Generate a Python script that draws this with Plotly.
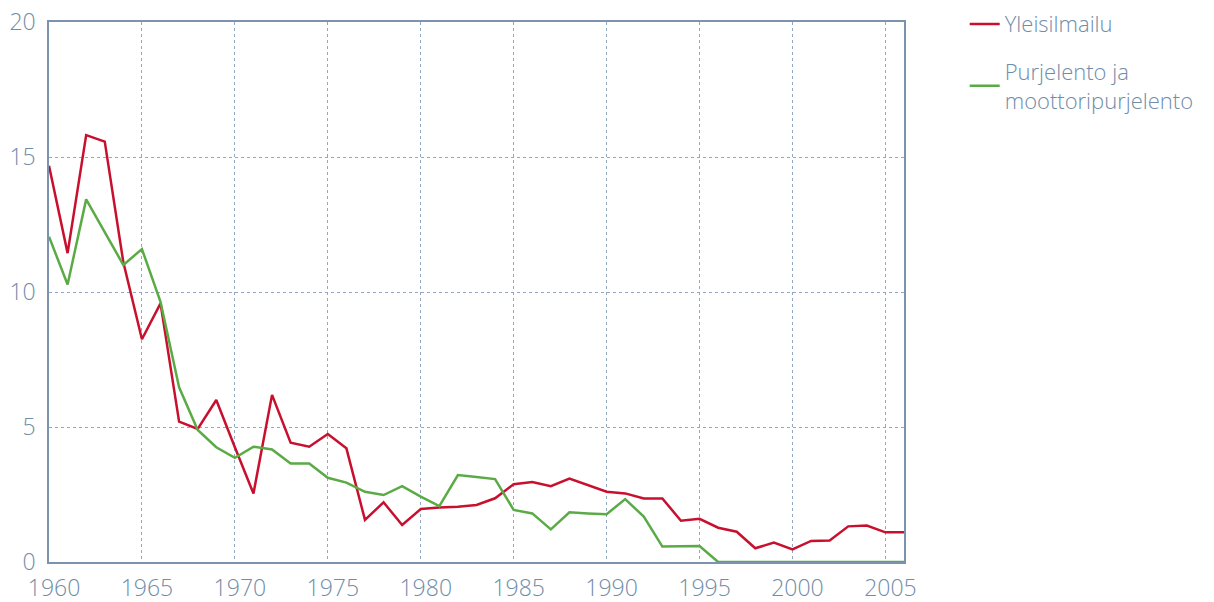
import plotly.graph_objects as go

years = list(range(1960, 2007))
yleisilmailu = [14.68, 11.44, 15.81, 15.57, 11.1, 8.25, 9.58, 5.2, 4.93, 6.0,
                4.25, 2.54, 6.19, 4.42, 4.27, 4.74, 4.21, 1.56, 2.21, 1.37,
                1.96, 2.02, 2.05, 2.11, 2.36, 2.88, 2.96, 2.81, 3.09, 2.84,
                2.60, 2.54, 2.35, 2.35, 1.53, 1.60, 1.27, 1.12, 0.51, 0.72,
                0.47, 0.78, 0.80, 1.32, 1.35, 1.10, 1.10]
purjelento = [12.05, 10.28, 13.43, 12.2, 11.0, 11.59, 9.64, 6.47, 4.89, 4.25,
              3.86, 4.27, 4.17, 3.65, 3.65, 3.12, 2.94, 2.60, 2.48, 2.81,
              2.42, 2.07, 3.22, 3.15, 3.07, 1.93, 1.80, 1.21, 1.84, 1.80,
              1.77, 2.33, 1.68, 0.57, 0.58, 0.59, 0, 0, 0, 0,
              0, 0, 0, 0, 0, 0, 0]
x_ticks = [1960, 1965, 1970, 1975, 1980, 1985, 1990, 1995, 2000, 2005]
y_ticks = [0, 5, 10, 15, 20]

RED = "#c8102e"
GREEN = "#5aab46"
TXT = "#6f8ca8"
GRID = "#93a8c0"
AX = "#7b93ad"
FONT = "Open Sans, sans-serif"

fig = go.Figure()
fig.add_trace(go.Scatter(x=years, y=yleisilmailu, mode="lines", name="Yleisilmailu",
                         legendgroup="a", line=dict(color=RED, width=2.5)))
fig.add_trace(go.Scatter(x=years, y=purjelento, mode="lines",
                         name="Purjelento ja<br>moottoripurjelento", legendgroup="b",
                         line=dict(color=GREEN, width=2.5)))

fig.update_layout(
    width=1214, height=602,
    margin=dict(l=49, r=310, t=22, b=40, autoexpand=False),
    paper_bgcolor="white", plot_bgcolor="white",
    font=dict(family=FONT, color=TXT, size=22, weight=300),
    showlegend=True,
    legend=dict(x=1.071, y=1.035, xanchor="left", yanchor="top",
                font=dict(family=FONT, size=22, color=TXT, weight=300),
                tracegroupgap=16, itemwidth=30, bgcolor="rgba(0,0,0,0)"),
)
fig.update_xaxes(range=[1960, 2006], tickvals=x_ticks, ticktext=[str(v) for v in x_ticks],
                 showgrid=True, gridcolor=GRID, griddash="dot", gridwidth=1,
                 showline=True, linecolor=AX, linewidth=1.5, mirror=True,
                 ticks="", zeroline=False, automargin=False, ticklabelstandoff=5,
                 ticklabelshift=5,
                 tickfont=dict(family=FONT, size=23, color=TXT, weight=300))
fig.update_yaxes(range=[0, 20], tickvals=y_ticks, ticktext=[str(v) for v in y_ticks],
                 showgrid=True, gridcolor=GRID, griddash="dot", gridwidth=1,
                 showline=True, linecolor=AX, linewidth=1.5, mirror=True,
                 ticks="", zeroline=False, automargin=False, ticklabelstandoff=7,
                 tickfont=dict(family=FONT, size=23, color=TXT, weight=300))

fig.write_html("out.html", config={"displayModeBar": False},
               post_script="document.body.style.margin='0';")
